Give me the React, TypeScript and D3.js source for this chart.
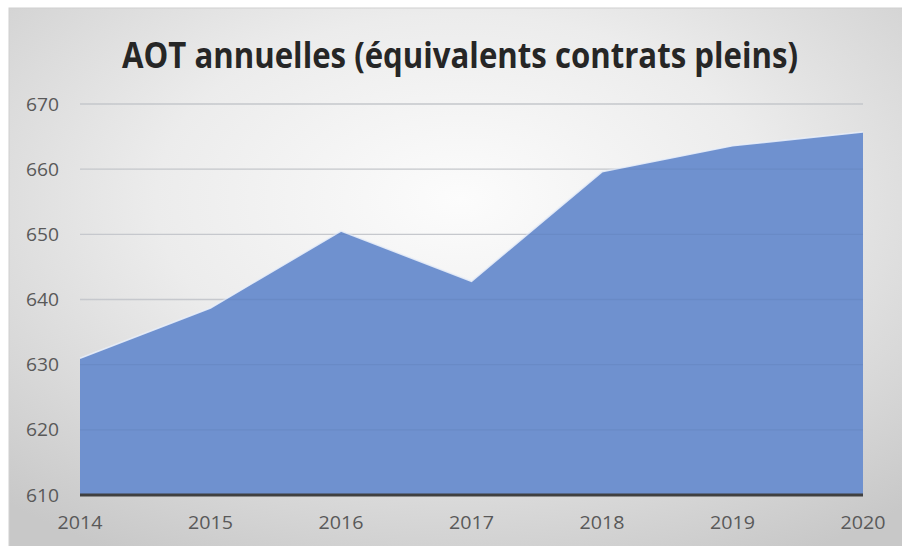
import React from "react";
import * as d3 from "d3";

const years: string[] = ["2014", "2015", "2016", "2017", "2018", "2019", "2020"];
const aotValues: number[] = [631, 638.7, 650.5, 642.8, 659.6, 663.6, 665.7];
const yTicks: number[] = [610, 620, 630, 640, 650, 660, 670];
const title = "AOT annuelles (équivalents contrats pleins)";

export default function App() {
  const W = 902;
  const H = 546;
  const x = d3.scalePoint<string>().domain(years).range([80, 863]);
  const y = d3.scaleLinear().domain([610, 670]).range([495, 104]);

  const data = years.map((yr, i) => ({ yr, v: aotValues[i] }));
  const area = d3
    .area<{ yr: string; v: number }>()
    .x((d) => x(d.yr) as number)
    .y0(y(610))
    .y1((d) => y(d.v));
  const line = d3
    .line<{ yr: string; v: number }>()
    .x((d) => x(d.yr) as number)
    .y((d) => y(d.v));

  const [x0, x1] = x.range();

  return (
    <svg
      width={W}
      height={H}
      style={{ position: "absolute", left: 0, top: 0 }}
      fontFamily="'Open Sans', sans-serif"
    >
      <defs>
        <radialGradient id="bg" cx="50%" cy="35%" r="75%">
          <stop offset="0%" stopColor="#fcfcfc" />
          <stop offset="45%" stopColor="#ececec" />
          <stop offset="100%" stopColor="#c8c8c8" />
        </radialGradient>
      </defs>
      <rect x={0} y={0} width={W} height={H} fill="#ffffff" />
      <rect x={9} y={8} width={W} height={H} fill="url(#bg)" stroke="#d0d0d0" strokeWidth={1} />

      <text
        x={460}
        y={68}
        textAnchor="middle"
        fontSize={36}
        fontWeight="bold"
        fill="#262626"
        textLength={676}
        lengthAdjust="spacingAndGlyphs"
      >
        {title}
      </text>

      {yTicks.map((t) => (
        <line key={"g" + t} x1={x0} x2={x1} y1={y(t)} y2={y(t)} stroke="#d6d6d6" strokeWidth={1.3} />
      ))}

      <path d={area(data) || ""} fill="#6f91cf" />
      <path d={line(data) || ""} fill="none" stroke="#e9eef8" strokeWidth={1.6} strokeOpacity={0.9} />

      {yTicks.map((t) => (
        <line
          key={"o" + t}
          x1={x0}
          x2={x1}
          y1={y(t)}
          y2={y(t)}
          stroke="#3a5080"
          strokeOpacity={0.1}
          strokeWidth={1.3}
        />
      ))}

      <line x1={x0} x2={x1} y1={y(610)} y2={y(610)} stroke="#404040" strokeWidth={3} />

      {yTicks.map((t) => (
        <text
          key={"t" + t}
          x={59}
          y={y(t)}
          dy="0.35em"
          textAnchor="end"
          fontSize={19}
          fill="#595959"
          textLength={33}
          lengthAdjust="spacingAndGlyphs"
        >
          {t}
        </text>
      ))}

      {years.map((yr) => (
        <text
          key={"x" + yr}
          x={x(yr) as number}
          y={529}
          textAnchor="middle"
          fontSize={19}
          fill="#595959"
          textLength={45}
          lengthAdjust="spacingAndGlyphs"
        >
          {yr}
        </text>
      ))}
    </svg>
  );
}
